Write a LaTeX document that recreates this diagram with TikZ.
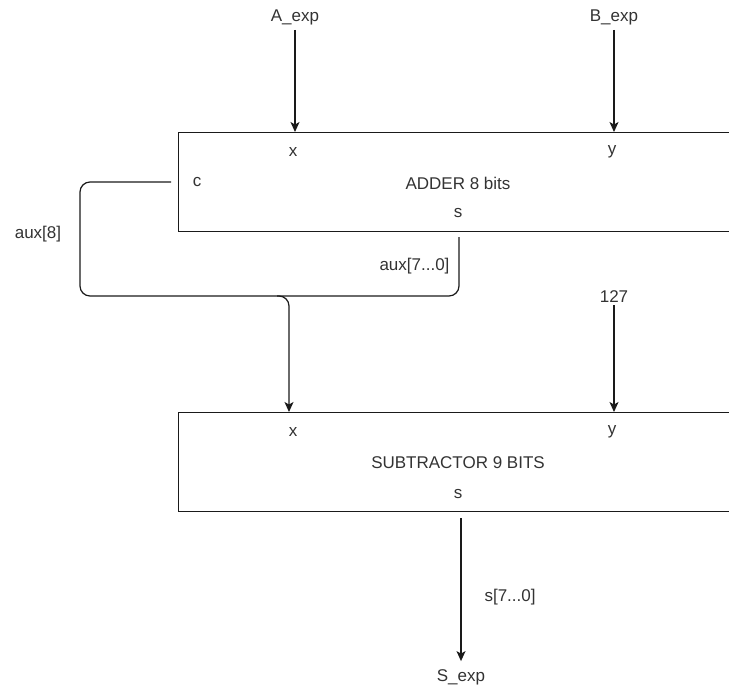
\documentclass[tikz,border=0pt]{standalone}
\usepackage{fontspec}
\setmainfont{Liberation Sans}
\usetikzlibrary{arrows.meta, positioning, calc}
\definecolor{inkgray}{HTML}{333333}
\definecolor{wire}{HTML}{1A1A1A}

\begin{document}
\begin{tikzpicture}[
    x=1pt, y=-1pt,
    >={Stealth[length=10pt, width=9pt, inset=2.5pt]},
    every node/.style={text=inkgray, font=\fontsize{17}{20}\selectfont},
    lbl/.style={inner xsep=2pt, inner ysep=8pt},
    port/.style={inner sep=1pt},
    blk/.style={draw=wire, line width=1.4pt, fill=white, anchor=north west,
                minimum width=600pt, minimum height=99pt},
    arr/.style={->, draw=wire, line width=1.2pt},
    link/.style={draw=wire, line width=1.2pt, rounded corners=10pt},
  ]

  % Frame
  \useasboundingbox (0,0) rectangle (729,688);
  \clip (0,0) rectangle (729,688);

  % Blocks
  \node[blk] (adder) at (178,132) {};
  \node[blk] (sub) at (178,412) {};

  % Ports and titles inside the blocks
  \node[port] (ax) at (293,152) {x};
  \node[port] (ay) at (612,152) {y};
  \node[port] (ac) at (197,182) {c};
  \node[port] (atitle) at (458,183) {ADDER 8 bits};
  \node[port] (as) at (458,213) {s};

  \node[port] (sx) at (293,432) {x};
  \node[port] (sy) at (612,432) {y};
  \node[port] (stitle) at (458,463) {SUBTRACTOR 9 BITS};
  \node[port] (ss) at (458,494) {s};

  % Outside labels
  \node[lbl] (Aexp) at (295,17) {A\_exp};
  \node[lbl] (Bexp) at (614,17) {B\_exp};
  \node[lbl] (k127) at (614,297) {127};
  \node[lbl] (Sexp) at (461,677) {S\_exp};
  \node (aux8) at (38,234) {aux[8]};
  \node[anchor=east] (auxlo) at (453,266) {aux[7...0]};
  \node[anchor=west] (slo) at (481,597) {s[7...0]};

  % Wire corners
  \coordinate (cout) at (171,182);
  \coordinate (sout) at (459,237);
  \coordinate (loop) at (80,296);
  \coordinate (tap) at (277,296);
  \coordinate (subin) at (289,412);
  \coordinate (subout) at (461,518);

  % Inputs of the adder
  \draw[arr] ([yshift=3pt]Aexp.south) -- (Aexp.south |- adder.north);
  \draw[arr] ([yshift=3pt]Bexp.south) -- (Bexp.south |- adder.north);

  % Carry and sum merged into aux
  \draw[link] (cout) -| (loop) -| (sout);
  \draw[arr, rounded corners=10pt] (tap) -| (subin);

  % Constant and result
  \draw[arr] ([yshift=6pt]k127.south) -- (k127.south |- sub.north);
  \draw[arr] (subout) -- (Sexp.north);

\end{tikzpicture}
\end{document}
